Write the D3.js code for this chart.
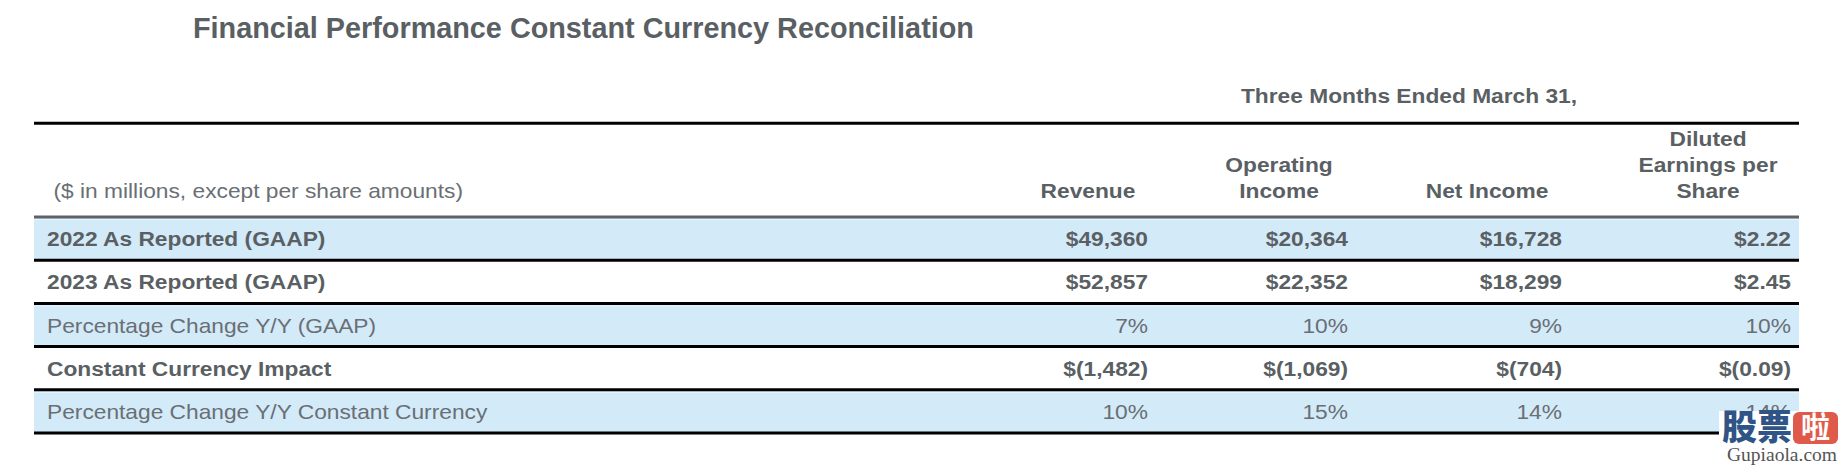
<!DOCTYPE html>
<html><head><meta charset="utf-8">
<script src="https://cdn.jsdelivr.net/npm/d3@7"></script>
<style>
html,body{margin:0;padding:0;background:#fff;}
svg{display:block;font-family:"Liberation Sans",Arial,sans-serif;}
</style></head><body>
<svg id="chart" width="1842" height="468"></svg>
<script>
// ---- data ----
const title = "Financial Performance Constant Currency Reconciliation";
const periodLabel = "Three Months Ended March 31,";
const unitsNote = "($ in millions, except per share amounts)";
const columns = ["Revenue", "Operating Income", "Net Income", "Diluted Earnings per Share"];
const columnHeaderLines = [["Revenue"], ["Operating", "Income"], ["Net Income"], ["Diluted", "Earnings per", "Share"]];
const rowLabels = [
  "2022 As Reported (GAAP)",
  "2023 As Reported (GAAP)",
  "Percentage Change Y/Y (GAAP)",
  "Constant Currency Impact",
  "Percentage Change Y/Y Constant Currency"
];
const rowKinds = ["amount", "amount", "percent", "amount", "percent"];
const revenue = [49360, 52857, 7, -1482, 10];
const operatingIncome = [20364, 22352, 10, -1069, 15];
const netIncome = [16728, 18299, 9, -704, 14];
const dilutedEps = [2.22, 2.45, 10, -0.09, 14];
const seriesByColumn = [revenue, operatingIncome, netIncome, dilutedEps];
const valueFormats = [",.0f", ",.0f", ",.0f", ",.2f"];
const watermarkMain = "股票";
const watermarkBadge = "啦";
const watermarkSite = "Gupiaola.com";

// ---- layout ----
const svg = d3.select("#chart");
const W = 1842, H = 468;
const tableLeft = 34, tableRight = 1799;
const SX = 1.11;            // horizontal text stretch of the source
const FS = 20.5;            // table font size
const boldColor = "#5a5f64", regColor = "#6a6f74";
const blueFill = "#d3eaf9";

const y = d3.scaleBand().domain(d3.range(rowLabels.length)).range([217, 217 + 43.2 * rowLabels.length]).paddingInner(0);
const colRight = d3.scaleOrdinal().domain(columns).range([1148, 1348, 1562, 1791]);
const colCenter = d3.scaleOrdinal().domain(columns).range([1088, 1279, 1487, 1708]);

function stretched(sel, x, yy) {
  return sel.attr("transform", `translate(${x},${yy}) scale(${SX},1)`);
}

function fmtValue(v, kind, ci) {
  if (kind === "percent") return d3.format(".0f")(v) + "%";
  const f = d3.format(valueFormats[ci]);
  return v < 0 ? "$(" + f(-v) + ")" : "$" + f(v);
}

// title
svg.append("text").attr("x", 193).attr("y", 37.5)
  .attr("font-size", 28.8).attr("font-weight", "bold").attr("fill", boldColor)
  .text(title);

// period label
stretched(svg.append("text"), 1409, 102.5)
  .attr("text-anchor", "middle").attr("font-size", FS).attr("font-weight", "bold").attr("fill", boldColor)
  .text(periodLabel);

// row fills
svg.append("g").selectAll("rect").data(d3.range(rowLabels.length).filter(i => i % 2 === 0)).join("rect")
  .attr("x", tableLeft).attr("width", tableRight - tableLeft)
  .attr("y", i => y(i)).attr("height", y.bandwidth())
  .attr("fill", blueFill);
svg.append("g").selectAll("line").data(d3.range(rowLabels.length).filter(i => i % 2 === 0)).join("line")
  .attr("x1", tableLeft).attr("x2", tableRight)
  .attr("y1", i => y(i) + 2.5).attr("y2", i => y(i) + 2.5)
  .attr("stroke", "#e9f5fd").attr("stroke-width", 1);

// top rule
svg.append("line").attr("x1", tableLeft).attr("x2", tableRight).attr("y1", 123.3).attr("y2", 123.3)
  .attr("stroke", "#000").attr("stroke-width", 3);
// header rule
svg.append("line").attr("x1", tableLeft).attr("x2", tableRight).attr("y1", y(0)).attr("y2", y(0))
  .attr("stroke", "#5f6368").attr("stroke-width", 3);
// row rules
svg.append("g").selectAll("line").data(d3.range(rowLabels.length)).join("line")
  .attr("x1", tableLeft).attr("x2", tableRight)
  .attr("y1", i => y(i) + y.bandwidth()).attr("y2", i => y(i) + y.bandwidth())
  .attr("stroke", "#000").attr("stroke-width", 3);

// units note
stretched(svg.append("text"), 53.5, 198)
  .attr("font-size", FS).attr("fill", regColor).text(unitsNote);

// column headers
const hdr = svg.append("g").selectAll("g").data(columns).join("g");
hdr.each(function(c, ci) {
  const lines = columnHeaderLines[ci];
  const g = d3.select(this);
  lines.forEach((ln, li) => {
    const yy = 197.5 - (lines.length - 1 - li) * 25.7;
    stretched(g.append("text"), colCenter(c), yy)
      .attr("text-anchor", "middle").attr("font-size", FS).attr("font-weight", "bold").attr("fill", boldColor)
      .text(ln);
  });
});

// row labels
svg.append("g").selectAll("text").data(rowLabels).join("text")
  .each(function(d, i) {
    stretched(d3.select(this), 47, y(i) + y.bandwidth() / 2 + 7.6);
  })
  .attr("font-size", FS)
  .attr("font-weight", (d, i) => rowKinds[i] === "amount" ? "bold" : "normal")
  .attr("fill", (d, i) => rowKinds[i] === "amount" ? boldColor : regColor)
  .text(d => d);

// values
columns.forEach((c, ci) => {
  svg.append("g").selectAll("text").data(seriesByColumn[ci]).join("text")
    .each(function(d, i) {
      stretched(d3.select(this), colRight(c), y(i) + y.bandwidth() / 2 + 7.6);
    })
    .attr("text-anchor", "end")
    .attr("font-size", FS)
    .attr("font-weight", (d, i) => rowKinds[i] === "amount" ? "bold" : "normal")
    .attr("fill", (d, i) => rowKinds[i] === "amount" ? boldColor : regColor)
    .text((d, i) => fmtValue(d, rowKinds[i], ci));
});

// watermark (site stamp in bottom-right corner)
const wm = svg.append("g");
wm.append("rect").attr("x", 1719).attr("y", 411).attr("width", W - 1719).attr("height", H - 411).attr("fill", "#fff");
wm.append("text").attr("x", 1722).attr("y", 440)
  .attr("font-family", "'Noto Sans CJK SC', sans-serif").attr("font-weight", 900)
  .attr("font-size", 35).attr("fill", "#2f5485").text(watermarkMain);
wm.append("rect").attr("x", 1793).attr("y", 412).attr("width", 45).attr("height", 32).attr("rx", 6).attr("fill", "#e05a4c");
wm.append("text").attr("x", 1815.5).attr("y", 438).attr("text-anchor", "middle")
  .attr("font-family", "'Noto Sans CJK SC', sans-serif").attr("font-weight", 700)
  .attr("font-size", 29).attr("fill", "#fff").text(watermarkBadge);
wm.append("text").attr("x", 1727).attr("y", 461)
  .attr("font-family", "'Liberation Serif', serif").attr("font-size", 19)
  .attr("textLength", 110).attr("lengthAdjust", "spacingAndGlyphs")
  .attr("fill", "#555").text(watermarkSite);
</script>
</body></html>
